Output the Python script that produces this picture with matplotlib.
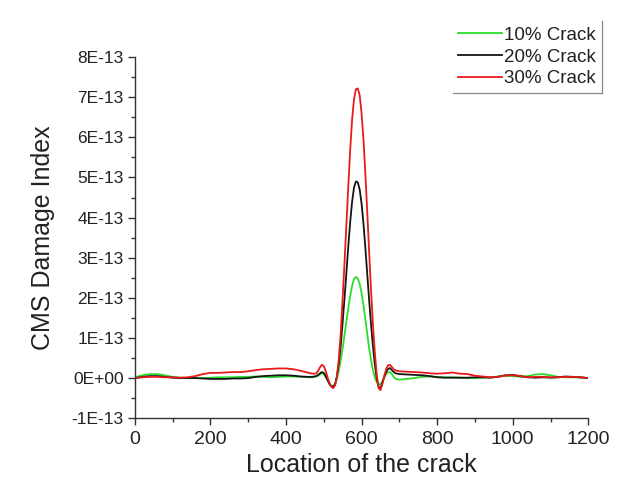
import numpy as np
import matplotlib
matplotlib.use("Agg")
import matplotlib.pyplot as plt
from matplotlib.ticker import MultipleLocator, FuncFormatter
from matplotlib.lines import Line2D

plt.rcParams['font.family'] = ['Liberation Sans', 'DejaVu Sans']

# x positions (location of the crack)
loc_left = [0, 20, 40, 60, 80, 100, 120, 140, 160, 180, 200, 220, 240, 260,
            280, 300, 320, 340, 360, 380, 400, 420, 440, 460, 470, 475]
loc_mid = [480, 485, 490, 495, 500, 505, 510, 515, 520, 525, 530, 535, 540,
           545, 550, 555, 560, 565, 570, 575, 580, 585, 590, 595, 600, 605,
           610, 615, 620, 625, 630, 635, 640, 645, 650, 655, 660, 665, 670,
           675, 680, 685, 690, 700]
loc_right = [720, 740, 760, 780, 800, 820, 840, 860, 880, 900, 920, 940, 960,
             980, 1000, 1020, 1040, 1060, 1080, 1100, 1120, 1140, 1160, 1180, 1200]

# damage index values, in units of 1E-13
crack10 = ([0.02, 0.07, 0.10, 0.10, 0.07, 0.03, 0.01, 0.00, 0.00, 0.00, 0.01, 0.02, 0.02,
            0.02, 0.03, 0.03, 0.04, 0.03, 0.02, 0.03, 0.04, 0.04, 0.03, 0.02, 0.02, 0.03]
           + [0.04, 0.06, 0.09, 0.12, 0.10, 0.03, -0.05, -0.13, -0.19, -0.20, -0.14, 0.00,
              0.20, 0.45, 0.75, 1.08, 1.42, 1.75, 2.05, 2.30, 2.47, 2.52, 2.48, 2.35, 2.12,
              1.82, 1.47, 1.10, 0.75, 0.45, 0.20, 0.02, -0.10, -0.16, -0.15, -0.08, 0.02,
              0.10, 0.15, 0.15, 0.10, 0.03, -0.02, -0.04]
           + [-0.02, 0.00, 0.03, 0.04, 0.03, 0.02, 0.02, 0.01, 0.00, 0.00, 0.01, 0.02, 0.04,
              0.06, 0.05, 0.03, 0.05, 0.09, 0.10, 0.07, 0.03, 0.02, 0.02, 0.01, 0.00])
crack20 = ([0.00, 0.03, 0.05, 0.05, 0.03, 0.01, 0.00, 0.00, 0.00, -0.01, -0.02, -0.02, -0.02,
            -0.01, -0.01, 0.00, 0.03, 0.05, 0.06, 0.07, 0.07, 0.06, 0.04, 0.03, 0.03, 0.04]
           + [0.05, 0.08, 0.12, 0.15, 0.13, 0.05, -0.05, -0.15, -0.21, -0.22, -0.15, 0.05,
              0.38, 0.82, 1.40, 2.00, 2.65, 3.30, 3.90, 4.40, 4.75, 4.90, 4.88, 4.70, 4.35,
              3.85, 3.25, 2.60, 1.95, 1.35, 0.80, 0.35, 0.00, -0.22, -0.25, -0.12, 0.03,
              0.15, 0.23, 0.25, 0.20, 0.15, 0.12, 0.10]
           + [0.09, 0.08, 0.07, 0.05, 0.02, 0.01, 0.01, 0.01, 0.01, 0.02, 0.02, 0.01, 0.03,
              0.07, 0.08, 0.05, 0.02, 0.01, 0.02, 0.01, 0.02, 0.04, 0.03, 0.02, 0.00])
crack30 = ([0.00, 0.02, 0.03, 0.03, 0.02, 0.02, 0.01, 0.02, 0.05, 0.10, 0.13, 0.13, 0.14,
            0.15, 0.15, 0.17, 0.20, 0.22, 0.23, 0.24, 0.24, 0.22, 0.18, 0.13, 0.11, 0.11]
           + [0.12, 0.18, 0.27, 0.33, 0.30, 0.18, 0.02, -0.12, -0.22, -0.25, -0.18, 0.05,
              0.50, 1.15, 2.00, 2.90, 3.85, 4.80, 5.70, 6.45, 6.95, 7.20, 7.22, 7.05, 6.60,
              5.95, 5.10, 4.15, 3.15, 2.20, 1.35, 0.65, 0.10, -0.25, -0.30, -0.15, 0.05,
              0.22, 0.32, 0.33, 0.28, 0.22, 0.19, 0.17]
           + [0.16, 0.15, 0.14, 0.12, 0.11, 0.12, 0.14, 0.11, 0.10, 0.06, 0.04, 0.02, 0.03,
              0.06, 0.07, 0.05, 0.02, 0.03, 0.03, 0.02, 0.02, 0.03, 0.03, 0.02, 0.00])

labels = ['10% Crack', '20% Crack', '30% Crack']
colors = ['#2ade2a', '#151515', '#e81a1a']

loc = np.array(loc_left + loc_mid + loc_right)
series = [np.array(crack10) * 1e-13, np.array(crack20) * 1e-13, np.array(crack30) * 1e-13]

fig = plt.figure(figsize=(6.36, 4.88), dpi=100)
ax = fig.add_axes([0.212, 0.143, 0.713, 0.74])

for y, c, lab in zip(series, colors, labels):
    ax.plot(loc, y, color=c, lw=1.3, label=lab)

ax.set_xlim(0, 1200)
ax.set_ylim(-1e-13, 8e-13)
ax.xaxis.set_major_locator(MultipleLocator(200))
ax.xaxis.set_minor_locator(MultipleLocator(100))
ax.yaxis.set_major_locator(MultipleLocator(1e-13))
ax.yaxis.set_minor_locator(MultipleLocator(0.5e-13))


def fmt_y(v, pos):
    n = int(round(v / 1e-13))
    if n == 0:
        return '0E+00'
    return '%dE-13' % n


ax.yaxis.set_major_formatter(FuncFormatter(fmt_y))

for s in ['top', 'right']:
    ax.spines[s].set_visible(False)
for s in ['left', 'bottom']:
    ax.spines[s].set_color('#333333')
    ax.spines[s].set_linewidth(1.0)

ax.tick_params(axis='x', which='major', direction='out', length=5, width=1,
               labelsize=14, colors='#333333', labelcolor='#222222', pad=4)
ax.tick_params(axis='y', which='major', direction='out', length=5, width=1,
               labelsize=12.5, colors='#333333', labelcolor='#222222', pad=3)
ax.tick_params(which='minor', direction='out', length=3, width=1, colors='#333333')

ax.set_xlabel('Location of the crack', fontsize=18, color='#222222', labelpad=4)
ax.set_ylabel('CMS Damage Index', fontsize=18, color='#222222', labelpad=12)

leg = ax.legend(loc='upper right', bbox_to_anchor=(1.03, 1.10), fontsize=13.5,
                frameon=True, fancybox=False, handlelength=2.3, handletextpad=0.15,
                labelspacing=0.25, borderpad=0.3, borderaxespad=0.0)
leg.get_frame().set_edgecolor('white')
leg.get_frame().set_linewidth(0)
for t in leg.get_texts():
    t.set_color('#222222')

# thin shadow edge on right and bottom of legend box
fig.canvas.draw()
bb = leg.get_window_extent().transformed(fig.transFigure.inverted())
fig.add_artist(Line2D([bb.x1, bb.x1], [bb.y0, bb.y1], transform=fig.transFigure,
                      color='#888888', lw=0.9))
fig.add_artist(Line2D([bb.x0, bb.x1], [bb.y0, bb.y0], transform=fig.transFigure,
                      color='#888888', lw=0.9))

fig.savefig('out.png', dpi=100)
